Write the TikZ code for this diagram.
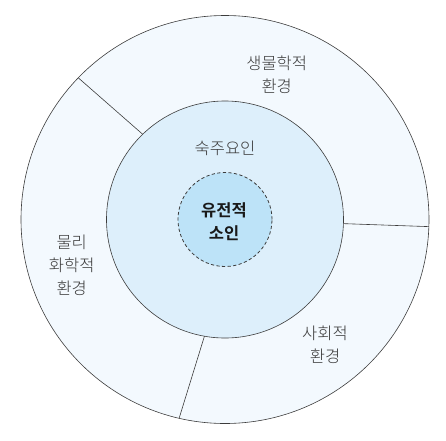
\documentclass[tikz,border=0pt]{standalone}
\usepackage{fontspec}
\setmainfont{Noto Sans CJK KR}[UprightFont={* Light},BoldFont={* Bold}]
\usetikzlibrary{positioning}

\definecolor{envfill}{HTML}{F3F9FE}
\definecolor{hostfill}{HTML}{DDEFFB}
\definecolor{corefill}{HTML}{BDE3F8}
\definecolor{linegray}{HTML}{3C3C3C}
\definecolor{textgray}{HTML}{383838}

\tikzset{
    ring/.style={circle,draw=linegray,line width=0.6pt,inner sep=0pt,outer sep=0pt},
    divider/.style={draw=linegray,line width=0.6pt},
    ringlabel/.style={align=center,text=textgray,font=\fontsize{16.5}{23}\selectfont}
}

\begin{document}
\begin{tikzpicture}[x=1pt,y=1pt]

\def\envradius{204}
\def\hostradius{118.5}
\def\coreradius{47}

\useasboundingbox (-225,-220.5) rectangle (221,219.5);

% the three circles
\node (env) [ring,fill=envfill,minimum size={2*\envradius*1pt}] at (0,0) {};
\node (host) [ring,fill=hostfill,minimum size={2*\hostradius*1pt}] at (0,0) {};
\node (core) [ring,fill=corefill,line width=0.8pt,dash pattern=on 3.2pt off 2.4pt,minimum size={2*\coreradius*1pt}] at (0,0) {};

% dividers of the outer ring
\draw [divider] (host.134.4) -- (env.136.8);
\draw [divider] (host.-2.3) -- (env.-2.8);
\draw [divider] (host.-100.9) -- (env.-103.4);

\node (coretxt) [ringlabel,text=black!90,font=\fontsize{16.5}{23}\selectfont\bfseries] at (-1,-2) {유전적\\소인};
\node (hosttxt) [ringlabel] at (0,71.5) {숙주요인};
\node (biotxt) [ringlabel] at (51.7,144.5) {생물학적\\환경};
\node (phystxt) [ringlabel] at (-153.3,-45.5) {물리\\화학적\\환경};
\node (soctxt) [ringlabel] at (100,-125.5) {사회적\\환경};

\end{tikzpicture}
\end{document}
